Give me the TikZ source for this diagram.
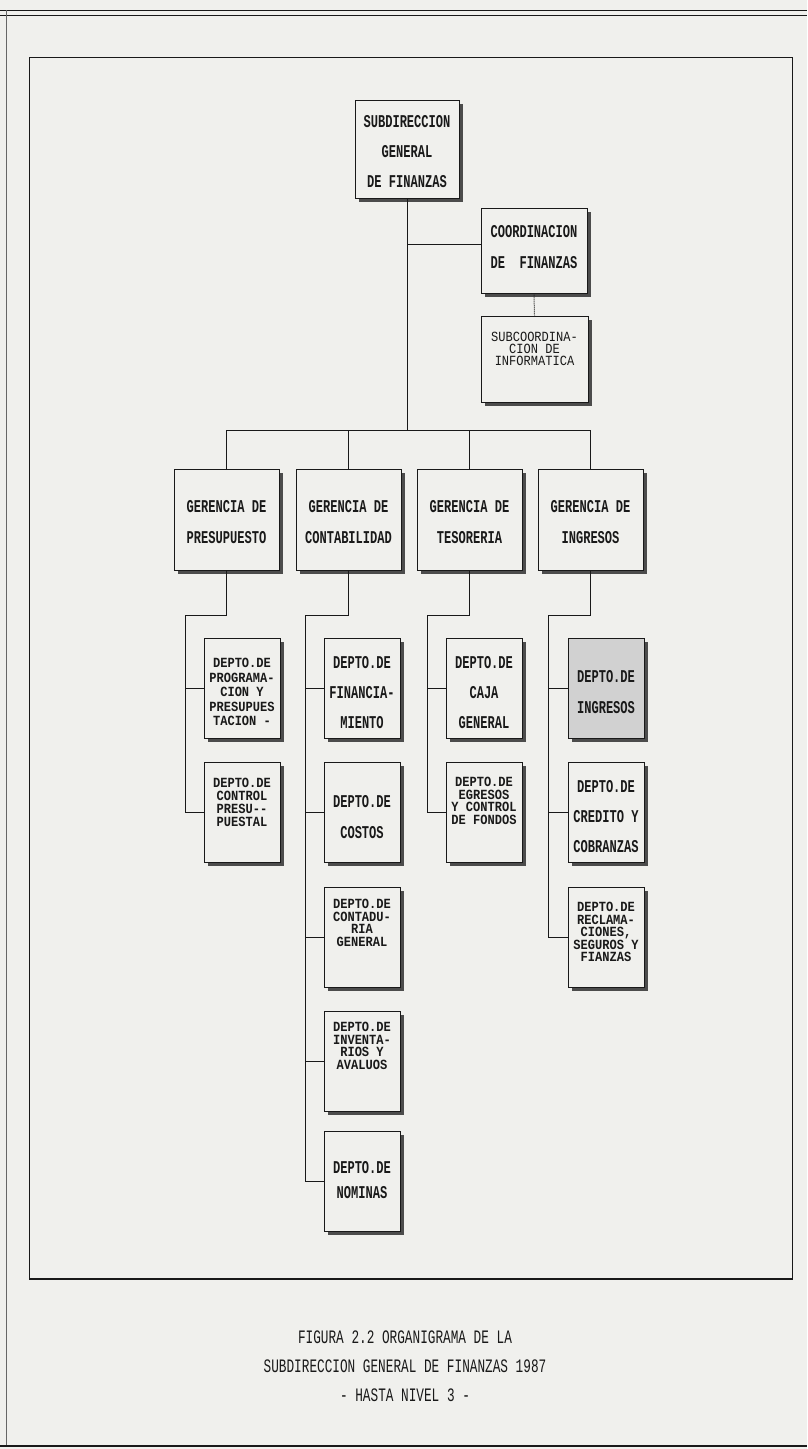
\documentclass[tikz,border=0pt]{standalone}
\usepackage{fontspec}
\newfontfamily\chartfont[FakeStretch=0.67]{Liberation Mono}
\newfontfamily\tightfont[FakeStretch=0.86]{Liberation Mono}
\newfontfamily\narrowfont[FakeStretch=0.86]{Liberation Mono}
\usetikzlibrary{shadows}
\definecolor{paper}{RGB}{240,240,237}
\definecolor{ink}{RGB}{25,25,25}
\begin{document}
\begin{tikzpicture}[x=1pt,y=-1pt,
  box/.style={draw=ink, line width=0.8pt, fill=paper, inner sep=0pt,
    general shadow={shadow xshift=4pt, shadow yshift=-4pt, fill=black!70}},
  txt/.style={align=center, inner sep=0pt, text=ink},
  normal/.style={txt, font=\chartfont\bfseries\fontsize{18}{#1}\selectfont},
  normal/.default=30,
  tight/.style={txt, font=\tightfont\bfseries\fontsize{14}{#1}\selectfont},
  tight/.default=12.5,
  ger/.style={box, minimum width=105pt, minimum height=101pt},
  dep/.style={box, minimum width=76pt, minimum height=100pt},
  conn/.style={draw=ink, line width=1pt},
  frame/.style={draw=ink, line width=1pt},
  captext/.style={font=\chartfont\fontsize{19}{24}\selectfont, text=ink}
]
\useasboundingbox (0,0) rectangle (807,1449);
\fill[paper] (0,0) rectangle (807,1449);
% outer frame
\draw[frame] (0,10) -- (807,10);
\draw[frame, line width=0.8pt] (0,15) -- (807,15);
\draw[frame, draw=black!60] (6,10) -- (6,1446);
\draw[frame, line width=1.5pt] (0,1446) -- (807,1446);
% inner frame
\draw[frame] (29,57) rectangle (792,1279);
\draw[frame, line width=1.5pt] (29,1279) -- (792,1279);

% top level
\node[box, minimum width=104pt, minimum height=98pt] (sub) at (407,149) {};
\node[normal] (subt) at (407,152) {SUBDIRECCION\\GENERAL\\DE FINANZAS};
\node[box, minimum width=106pt, minimum height=85pt] (coord) at (534,250.5) {};
\node[normal=31] (coordt) at (534,247.5) {COORDINACION\\DE~~FINANZAS};
\node[box, minimum width=107pt, minimum height=86pt] (subc) at (534.5,359) {};
\node[txt, font=\narrowfont\fontsize{14}{12}\selectfont] (subct) at (534.5,349) {SUBCOORDINA-\\CION DE\\INFORMATICA};

% gerencias
\node[ger] (g1) at (226.5,519.5) {};
\node[ger] (g2) at (348.5,519.5) {};
\node[ger] (g3) at (469.5,519.5) {};
\node[ger] (g4) at (590.5,519.5) {};
\node[normal=31] (g1t) at (226.5,522.5) {GERENCIA DE\\PRESUPUESTO};
\node[normal=31] (g2t) at (348.5,522.5) {GERENCIA DE\\CONTABILIDAD};
\node[normal=31] (g3t) at (469.5,522.5) {GERENCIA DE\\TESORERIA};
\node[normal=31] (g4t) at (590.5,522.5) {GERENCIA DE\\INGRESOS};

% deptos presupuesto
\node[dep] (d11) at (242,688) {};
\node[tight=14.5] (d11t) at (242,692) {DEPTO.DE\\PROGRAMA-\\CION Y\\PRESUPUES\\TACION -};
\node[dep] (d12) at (242,812) {};
\node[tight=13] (d12t) at (242,802) {DEPTO.DE\\CONTROL\\PRESU--\\PUESTAL};
% deptos contabilidad
\node[dep] (d21) at (362,688) {};
\node[normal] (d21t) at (362,693) {DEPTO.DE\\FINANCIA-\\MIENTO};
\node[dep] (d22) at (362,812) {};
\node[normal=31] (d22t) at (362,817) {DEPTO.DE\\COSTOS};
\node[dep] (d23) at (362,937) {};
\node[tight=12.5] (d23t) at (362,923) {DEPTO.DE\\CONTADU-\\RIA\\GENERAL};
\node[dep] (d24) at (362,1061) {};
\node[tight=12.5] (d24t) at (362,1046) {DEPTO.DE\\INVENTA-\\RIOS Y\\AVALUOS};
\node[dep] (d25) at (362,1181) {};
\node[normal=25] (d25t) at (362,1180) {DEPTO.DE\\NOMINAS};
% deptos tesoreria
\node[dep] (d31) at (484,688) {};
\node[normal] (d31t) at (484,693) {DEPTO.DE\\CAJA\\GENERAL};
\node[dep] (d32) at (484,812) {};
\node[tight] (d32t) at (484,801) {DEPTO.DE\\EGRESOS\\Y CONTROL\\DE FONDOS};
% deptos ingresos
\node[dep, fill=black!18] (d41) at (606,688) {};
\node[normal=31] (d41t) at (606,692) {DEPTO.DE\\INGRESOS};
\node[dep] (d42) at (606,812) {};
\node[normal] (d42t) at (606,817) {DEPTO.DE\\CREDITO Y\\COBRANZAS};
\node[dep] (d43) at (606,937) {};
\node[tight=12.5] (d43t) at (606,932) {DEPTO.DE\\RECLAMA-\\CIONES,\\SEGUROS Y\\FIANZAS};

% connectors top
\coordinate (busc) at (407,430);
\coordinate (tc) at (407,244);
\draw[conn] (sub.south) -- (busc);
\draw[conn] (tc) -- (tc -| coord.west);
\draw[conn, densely dotted] (coord.south) -- (subc.north);
\draw[conn] (g1.north) -- (g1.north |- busc) -- (g4.north |- busc) -- (g4.north);
\draw[conn] (g2.north) -- (g2.north |- busc);
\draw[conn] (g3.north) -- (g3.north |- busc);

% gerencia to deptos
\coordinate (s1) at (185,615);
\coordinate (s2) at (305,615);
\coordinate (s3) at (427,615);
\coordinate (s4) at (548,615);
\draw[conn] (g1.south) |- (s1) -- (s1 |- d12.west) -- (d12.west);
\draw[conn] (s1 |- d11.west) -- (d11.west);
\draw[conn] (g2.south) |- (s2) -- (s2 |- d25.west) -- (d25.west);
\draw[conn] (s2 |- d21.west) -- (d21.west);
\draw[conn] (s2 |- d22.west) -- (d22.west);
\draw[conn] (s2 |- d23.west) -- (d23.west);
\draw[conn] (s2 |- d24.west) -- (d24.west);
\draw[conn] (g3.south) |- (s3) -- (s3 |- d32.west) -- (d32.west);
\draw[conn] (s3 |- d31.west) -- (d31.west);
\draw[conn] (g4.south) |- (s4) -- (s4 |- d43.west) -- (d43.west);
\draw[conn] (s4 |- d41.west) -- (d41.west);
\draw[conn] (s4 |- d42.west) -- (d42.west);

% caption
\node[captext] (c1) at (405,1337) {FIGURA 2.2 ORGANIGRAMA DE LA};
\node[captext] (c2) at (405,1366) {SUBDIRECCION GENERAL DE FINANZAS 1987};
\node[captext] (c3) at (405,1395) {- HASTA NIVEL 3 -};
\end{tikzpicture}
\end{document}
